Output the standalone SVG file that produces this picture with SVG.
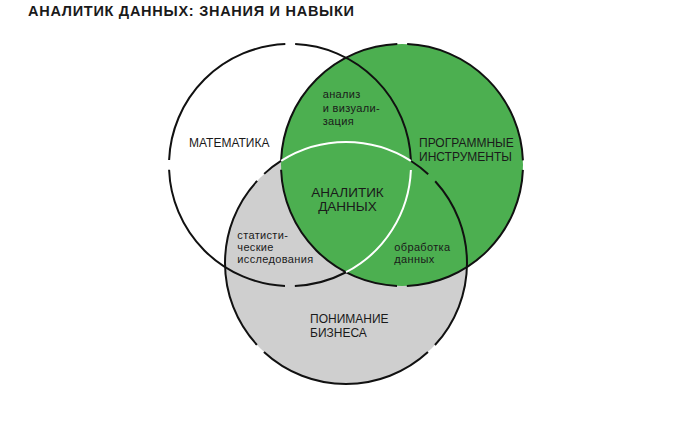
<svg xmlns="http://www.w3.org/2000/svg" width="700" height="422" viewBox="0 0 700 422">
<style>
.t{font-family:"Liberation Sans",Arial,sans-serif;fill:#1a1a1a}
.cap{font-size:12px}
.low{font-size:11px;letter-spacing:0.35px}
.ring{fill:none;stroke:#111;stroke-width:2}
.wl{fill:none;stroke:#fff;stroke-width:2}
</style>
<rect width="700" height="422" fill="#fff"/>
<text class="t" x="28" y="15.5" font-size="14.5" font-weight="bold" textLength="326" lengthAdjust="spacing">АНАЛИТИК ДАННЫХ: ЗНАНИЯ И НАВЫКИ</text>
<g id="fills">
<circle cx="290" cy="165" r="121" fill="#fff"/>
<circle cx="346" cy="263" r="121" fill="#cfcfcf"/>
<circle cx="402" cy="165" r="121" fill="#4caf50"/>
</g>
<g id="connectors">
<circle class="ring" cx="290" cy="165" r="121" stroke-dasharray="53.32 9.93 180.14 9.93 180.14 9.93 180.14 136.74" stroke-dashoffset="-131.78"/>
<circle class="ring" cx="346" cy="263" r="121" stroke-dasharray="180.14 9.93 180.14 9.93 21.65 136.85 21.65 9.93 180.14 9.93" stroke-dashoffset="-100"/>
<circle class="ring" cx="402" cy="165" r="121" stroke-dasharray="180.14 9.93" stroke-dashoffset="-4.96"/>
<path class="wl" d="M410.9,169.96 A121,121 0 0 1 346.06,272.23"/>
<path class="wl" d="M281.17,160.84 A121,121 0 0 1 410.83,160.84"/>
</g>
<g id="math">
<text class="t cap" x="189" y="147">МАТЕМАТИКА</text>
</g>
<g id="tools">
<text class="t cap" x="419" y="147.3">ПРОГРАММНЫЕ</text>
<text class="t cap" x="419" y="160.7">ИНСТРУМЕНТЫ</text>
</g>
<g id="business">
<text class="t cap" x="310" y="323.3">ПОНИМАНИЕ</text>
<text class="t cap" x="310" y="336.7">БИЗНЕСА</text>
</g>
<g id="analysis">
<text class="t low" x="322.7" y="98.3">анализ</text>
<text class="t low" x="322.7" y="111.5">и визуали-</text>
<text class="t low" x="322.7" y="124.5">зация</text>
</g>
<g id="stats">
<text class="t low" x="237.3" y="238.6">статисти-</text>
<text class="t low" x="237.3" y="250.8">ческие</text>
<text class="t low" x="237.3" y="263">исследования</text>
</g>
<g id="processing">
<text class="t low" x="394.3" y="250.8">обработка</text>
<text class="t low" x="394.3" y="263">данных</text>
</g>
<g id="analyst">
<text class="t" x="347.5" y="196.7" font-size="13.5" text-anchor="middle">АНАЛИТИК</text>
<text class="t" x="347.5" y="210.7" font-size="13.5" text-anchor="middle">ДАННЫХ</text>
</g>
</svg>
